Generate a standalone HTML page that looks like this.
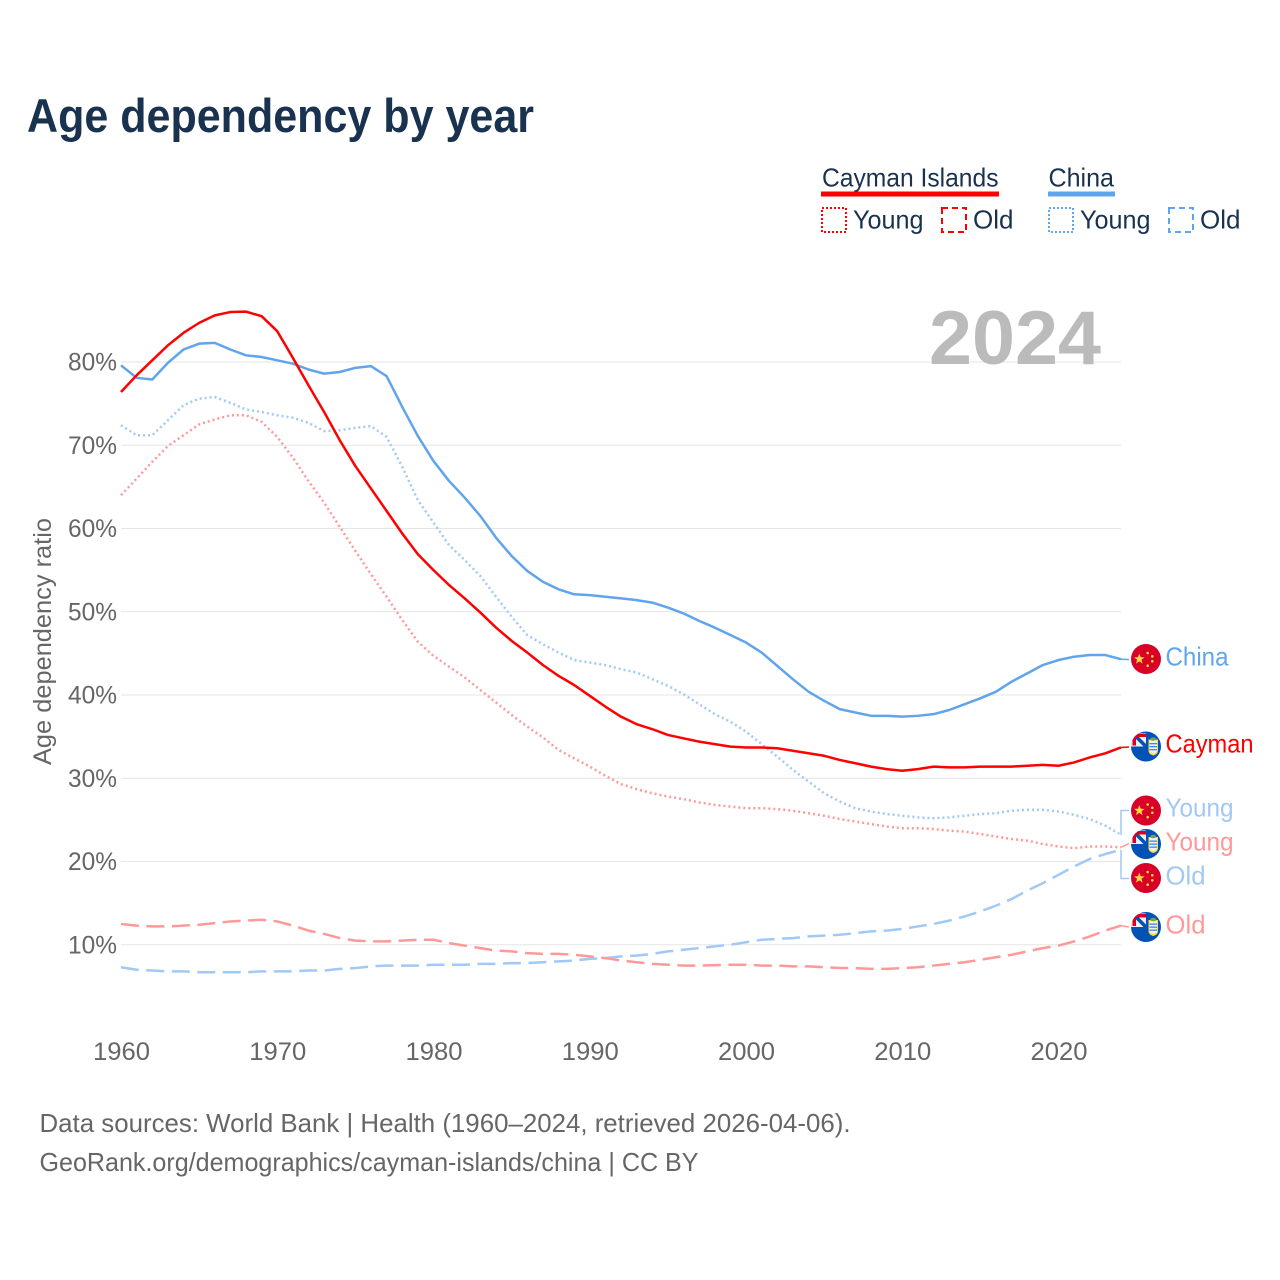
<!DOCTYPE html>
<html lang="en">
<head>
<meta charset="utf-8">
<title>Age dependency by year</title>
<style>
html,body{margin:0;padding:0;background:#fff;}
svg{display:block;}
text{font-family:"Liberation Sans",sans-serif;}
</style>
</head>
<body>
<svg id="chart" xmlns="http://www.w3.org/2000/svg" width="1280" height="1280" viewBox="0 0 1280 1280">
<defs>
<clipPath id="flag-clip"><circle cx="15" cy="15" r="15"/></clipPath>
<symbol id="flag-china" width="30" height="30" viewBox="0 0 30 30">
<g clip-path="url(#flag-clip)">
<rect width="30" height="30" fill="#d80027"/>
<polygon fill="#ffda44" points="8.3,9.6 9.7,13.3 13.6,13.4 10.5,15.8 11.6,19.6 8.3,17.4 5,19.6 6.1,15.8 3,13.4 6.9,13.3"/>
<circle cx="16.7" cy="9" r="1.3" fill="#ffda44"/>
<circle cx="21.3" cy="12.3" r="1.3" fill="#ffda44"/>
<circle cx="21.3" cy="17.3" r="1.3" fill="#ffda44"/>
<circle cx="16.7" cy="21.7" r="1.3" fill="#ffda44"/>
</g>
</symbol>
<symbol id="flag-cayman" width="30" height="30" viewBox="0 0 30 30">
<g clip-path="url(#flag-clip)">
<rect width="30" height="30" fill="#0052b4"/>
<rect x="0" y="1.500" width="15" height="13.500" fill="#f0f0f0"/>
<rect x="1.500" y="2" width="13.500" height="3.500" fill="#d80027"/>
<rect x="1.500" y="2" width="3.500" height="12" fill="#d80027"/>
<polygon points="5,5.500 8,5.500 15,12.500 15,15 12.500,15 5,7.500" fill="#0052b4"/>
<path d="M17.500 8h9.500v11c0 3-2.500 4.500-4.750 5c-2.250-.5-4.750-2-4.750-5z" fill="#ffda44"/>
<path d="M18.500 9h7.500v10c0 1.500-1.500 2.500-3.750 3c-2.250-.5-3.750-1.500-3.750-3z" fill="#f0f0f0"/>
<rect x="18.500" y="11.500" width="7.500" height="1.300" fill="#338af3"/>
<rect x="18.500" y="14.500" width="7.500" height="1.300" fill="#338af3"/>
<rect x="18.500" y="17.500" width="7.500" height="1.300" fill="#338af3"/>
<ellipse cx="22.250" cy="7.500" rx="3" ry="1.800" fill="#6da544"/>
</g>
</symbol>
</defs>

<rect width="1280" height="1280" fill="#ffffff"/>

<text x="27" y="132" font-size="47" font-weight="700" fill="#18324f" textLength="507" lengthAdjust="spacingAndGlyphs">Age dependency by year</text>

<g>
<text x="822" y="186.500" font-size="26" fill="#18324f" textLength="176.500" lengthAdjust="spacingAndGlyphs">Cayman Islands</text>
<rect x="821" y="191.500" width="178" height="5" fill="#ff0000"/>
<rect x="822" y="208" width="24" height="24" fill="none" stroke="#ff0000" stroke-width="2" stroke-dasharray="2 2"/>
<text x="853" y="228.500" font-size="26" fill="#18324f" textLength="70.500" lengthAdjust="spacingAndGlyphs">Young</text>
<rect x="942" y="208" width="24" height="24" fill="none" stroke="#ff0000" stroke-width="2" stroke-dasharray="6 4"/>
<text x="973" y="228.500" font-size="26" fill="#18324f" textLength="40.500" lengthAdjust="spacingAndGlyphs">Old</text>
<text x="1048.500" y="186.500" font-size="26" fill="#18324f" textLength="65.500" lengthAdjust="spacingAndGlyphs">China</text>
<rect x="1048" y="191.500" width="67" height="5" fill="#60a5ec"/>
<rect x="1049" y="208" width="24" height="24" fill="none" stroke="#60a5ec" stroke-width="2" stroke-dasharray="2 2"/>
<text x="1080" y="228.500" font-size="26" fill="#18324f" textLength="70.500" lengthAdjust="spacingAndGlyphs">Young</text>
<rect x="1169" y="208" width="24" height="24" fill="none" stroke="#60a5ec" stroke-width="2" stroke-dasharray="6 4"/>
<text x="1200" y="228.500" font-size="26" fill="#18324f" textLength="40.500" lengthAdjust="spacingAndGlyphs">Old</text>
</g>

<g id="grid"></g>
<g id="yticks"></g>
<g id="xticks"></g>

<text x="929" y="364" font-size="76" font-weight="700" fill="#bbbbbb" textLength="172" lengthAdjust="spacingAndGlyphs">2024</text>

<text transform="translate(51,765) rotate(-90)" x="0" y="0" font-size="25" fill="#666666" textLength="247" lengthAdjust="spacingAndGlyphs">Age dependency ratio</text>

<g id="series"></g>

<g>
<use href="#flag-china" x="1131" y="644"/>
<text x="1165.500" y="665.500" font-size="26" fill="#60a5ec" textLength="63" lengthAdjust="spacingAndGlyphs">China</text>
<use href="#flag-cayman" x="1131" y="731.500"/>
<text x="1165.500" y="752.500" font-size="26" fill="#ff0000" textLength="88" lengthAdjust="spacingAndGlyphs">Cayman</text>
<use href="#flag-china" x="1131" y="795.500"/>
<text x="1165.500" y="816.500" font-size="26" fill="#a0c9f5" textLength="68" lengthAdjust="spacingAndGlyphs">Young</text>
<use href="#flag-cayman" x="1131" y="829"/>
<text x="1165.500" y="850.500" font-size="26" fill="#ff9999" textLength="68" lengthAdjust="spacingAndGlyphs">Young</text>
<use href="#flag-china" x="1131" y="863"/>
<text x="1165.500" y="884.500" font-size="26" fill="#a0c9f5" textLength="40" lengthAdjust="spacingAndGlyphs">Old</text>
<use href="#flag-cayman" x="1131" y="912"/>
<text x="1165.500" y="933.500" font-size="26" fill="#ff9999" textLength="40" lengthAdjust="spacingAndGlyphs">Old</text>
</g>

<text x="39.500" y="1132" font-size="26" fill="#666666" textLength="811" lengthAdjust="spacingAndGlyphs">Data sources: World Bank | Health (1960–2024, retrieved 2026-04-06).</text>
<text x="39.500" y="1171" font-size="26" fill="#666666" textLength="659" lengthAdjust="spacingAndGlyphs">GeoRank.org/demographics/cayman-islands/china | CC BY</text>
</svg>

<script>
const startYear = 1960;
const yTickValues = [10, 20, 30, 40, 50, 60, 70, 80];
const xTickYears = [1960, 1970, 1980, 1990, 2000, 2010, 2020];

const chinaTotal = [79.6,78.1,77.9,79.9,81.5,82.2,82.3,81.5,80.8,80.6,80.2,79.8,79.1,78.6,78.8,79.3,79.5,78.3,74.6,71.1,68.1,65.7,63.7,61.5,58.9,56.7,54.9,53.6,52.7,52.1,52.0,51.8,51.6,51.4,51.1,50.5,49.8,48.9,48.1,47.2,46.3,45.1,43.5,41.9,40.4,39.3,38.3,37.9,37.5,37.5,37.4,37.5,37.7,38.2,38.9,39.6,40.4,41.6,42.6,43.6,44.2,44.6,44.8,44.8,44.3];
const caymanTotal = [76.4,78.4,80.2,82.0,83.5,84.7,85.6,86.0,86.05,85.5,83.7,80.5,77.2,74.0,70.6,67.5,64.8,62.1,59.4,56.9,55.0,53.2,51.6,49.9,48.1,46.5,45.1,43.6,42.3,41.2,39.9,38.6,37.4,36.5,35.9,35.2,34.8,34.4,34.1,33.8,33.7,33.7,33.6,33.3,33.0,32.7,32.2,31.8,31.4,31.1,30.9,31.1,31.4,31.3,31.3,31.4,31.4,31.4,31.5,31.6,31.5,31.9,32.5,33.0,33.7];
const chinaYoung = [72.4,71.2,71.2,73.0,74.8,75.6,75.8,75.1,74.3,74.0,73.6,73.3,72.7,71.7,71.8,72.1,72.3,71.0,67.4,63.4,60.7,58.0,56.2,54.3,51.8,49.4,47.2,46.1,45.1,44.2,43.9,43.6,43.1,42.7,41.9,41.1,40.1,38.9,37.7,36.8,35.6,34.1,32.6,31.0,29.6,28.2,27.2,26.4,26.0,25.7,25.5,25.3,25.2,25.3,25.5,25.7,25.8,26.1,26.2,26.2,26.0,25.6,25.1,24.3,23.2];
const caymanYoung = [64.0,66.0,68.0,69.9,71.2,72.5,73.1,73.6,73.6,72.8,71.0,68.5,65.7,63.1,60.2,57.3,54.5,51.8,49.0,46.4,44.7,43.4,42.1,40.6,39.1,37.6,36.2,34.9,33.4,32.4,31.4,30.3,29.3,28.7,28.2,27.8,27.5,27.1,26.8,26.6,26.4,26.4,26.3,26.1,25.8,25.5,25.1,24.8,24.5,24.2,24.0,24.0,23.9,23.7,23.6,23.3,23.0,22.7,22.5,22.1,21.8,21.6,21.8,21.8,21.7];
const chinaOld = [7.3,7.0,6.9,6.8,6.8,6.7,6.7,6.7,6.7,6.8,6.8,6.8,6.9,6.9,7.1,7.2,7.4,7.5,7.5,7.5,7.6,7.6,7.6,7.7,7.7,7.8,7.8,7.9,8.0,8.1,8.3,8.4,8.6,8.7,8.9,9.2,9.4,9.6,9.8,10.0,10.3,10.6,10.7,10.8,11.0,11.1,11.2,11.4,11.6,11.7,11.9,12.2,12.5,12.9,13.4,14.0,14.7,15.5,16.5,17.4,18.4,19.4,20.3,20.9,21.4];
const caymanOld = [12.5,12.3,12.2,12.2,12.3,12.4,12.6,12.8,12.9,13.0,12.8,12.3,11.7,11.3,10.8,10.5,10.4,10.4,10.5,10.6,10.6,10.2,9.9,9.6,9.3,9.2,9.0,8.9,8.9,8.8,8.6,8.4,8.1,7.9,7.7,7.6,7.5,7.5,7.55,7.6,7.6,7.5,7.5,7.4,7.4,7.3,7.2,7.2,7.1,7.1,7.2,7.3,7.5,7.7,7.9,8.2,8.5,8.8,9.2,9.6,9.9,10.4,11.0,11.7,12.3];

const SVG_NS = 'http://www.w3.org/2000/svg';
const xOf = function (year) { return 121 + (year - startYear) * 15.625; };
const yOf = function (value) { return 1028 - value * 8.325; };
const make = function (tag, parent) {
  const el = document.createElementNS(SVG_NS, tag);
  parent.appendChild(el);
  return el;
};

const gridG = document.getElementById('grid');
const yG = document.getElementById('yticks');
yTickValues.forEach(function (v) {
  const line = make('line', gridG);
  
  
  line.setAttribute('x1', 121);
  line.setAttribute('x2', 1121);
  line.setAttribute('y1', yOf(v));
  line.setAttribute('y2', yOf(v));
  line.setAttribute('stroke', '#e6e6e6');
  line.setAttribute('stroke-width', '1');
  const t = make('text', yG);
  
  
  t.setAttribute('x', 68);
  t.setAttribute('y', yOf(v) + 8.5);
  t.setAttribute('font-size', '25');
  t.setAttribute('fill', '#666666');
  t.setAttribute('textLength', '49');
  t.setAttribute('lengthAdjust', 'spacingAndGlyphs');
  t.textContent = v + '%';
});

const xG = document.getElementById('xticks');
xTickYears.forEach(function (yr) {
  const t = make('text', xG);
  
  
  t.setAttribute('x', xOf(yr) - 28);
  t.setAttribute('y', 1060);
  t.setAttribute('font-size', '25');
  t.setAttribute('fill', '#666666');
  t.setAttribute('textLength', '57');
  t.setAttribute('lengthAdjust', 'spacingAndGlyphs');
  t.textContent = String(yr);
});

const seriesG = document.getElementById('series');
const drawSeries = function (values, name, color, width, dash, leaderPts) {
  const pts = values.map(function (v, i) { return xOf(startYear + i) + ',' + yOf(v); });
  const lastY = yOf(values[values.length - 1]);
  const line = make('polyline', seriesG);
  
  
  line.setAttribute('points', pts.join(' '));
  line.setAttribute('fill', 'none');
  line.setAttribute('stroke', color);
  line.setAttribute('stroke-width', width);
  line.setAttribute('stroke-linejoin', 'round');
  if (dash) {
    line.setAttribute('stroke-dasharray', dash);
  }
  const leader = make('polyline', seriesG);
  
  
  const tail = leaderPts.map(function (p) { return p[0] + ',' + p[1]; }).join(' ');
  leader.setAttribute('points', xOf(2024) + ',' + lastY + ' ' + tail);
  leader.setAttribute('fill', 'none');
  leader.setAttribute('stroke', color);
  leader.setAttribute('stroke-width', '1.500');
};

drawSeries(chinaOld, 'china-old', '#a0c9f5', '2.500', '18 7.500', [[1121, 878.500], [1129, 878.500]]);
drawSeries(caymanOld, 'cayman-old', '#ff9999', '2.500', '18 7.500', [[1129, 927]]);
drawSeries(chinaYoung, 'china-young', '#a0c9f5', '2.500', '2 3', [[1121, 810.500], [1129, 810.500]]);
drawSeries(caymanYoung, 'cayman-young', '#ff9999', '2.500', '2 3', [[1129, 843.500]]);
drawSeries(chinaTotal, 'china-total', '#60a5ec', '2.500', '', [[1129, 659.500]]);
drawSeries(caymanTotal, 'cayman-total', '#ff0000', '2.500', '', [[1129, 747]]);
</script>
</body>
</html>
